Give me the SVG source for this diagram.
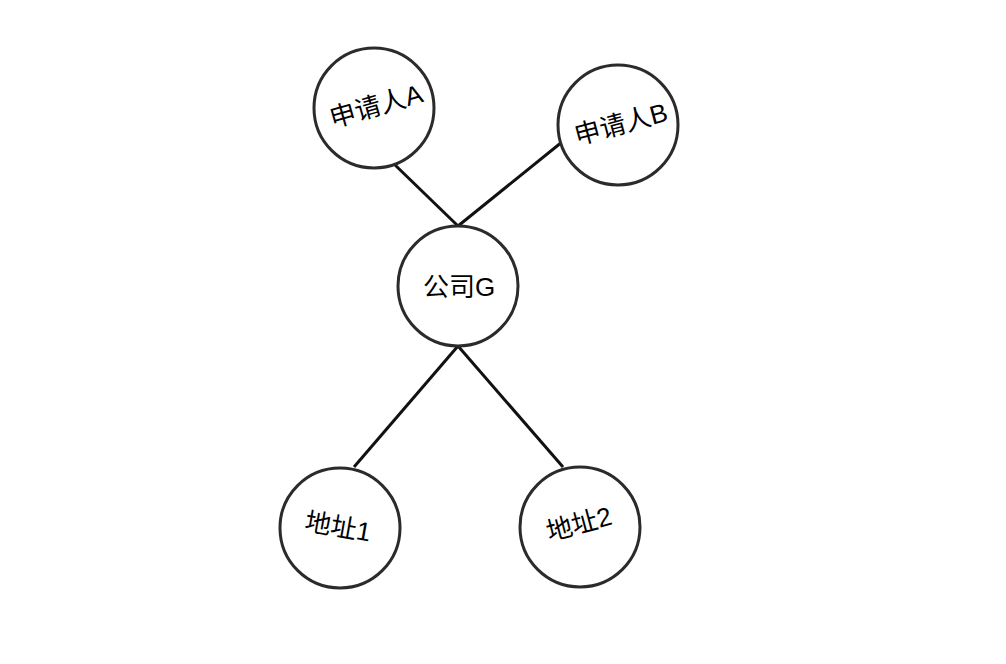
<svg xmlns="http://www.w3.org/2000/svg" width="1006" height="664" viewBox="0 0 1006 664">
<style>
.node circle{fill:#fff;stroke:#2b2b2b;stroke-width:3}
.node text{font-family:"Liberation Sans","Noto Sans CJK SC",sans-serif;font-size:26px;fill:#000;text-anchor:middle;dominant-baseline:central}
.edges line{stroke:#111;stroke-width:3}
</style>
<rect width="1006" height="664" fill="#fff"/>
<g class="edges">
<line x1="393" y1="163" x2="458" y2="226"/>
<line x1="562" y1="142" x2="458" y2="226"/>
<line x1="458" y1="346" x2="354" y2="467"/>
<line x1="458" y1="346" x2="563" y2="467"/>
</g>
<g class="node" id="applicantA"><circle cx="374" cy="108" r="60"/><text transform="translate(376,106) rotate(-16)">申请人A</text></g>
<g class="node" id="applicantB"><circle cx="618" cy="125" r="60"/><text transform="translate(621,124) rotate(-15)">申请人B</text></g>
<g class="node" id="companyG"><circle cx="458" cy="286" r="60"/><text transform="translate(459,287)">公司G</text></g>
<g class="node" id="address1"><circle cx="340" cy="528" r="60"/><text transform="translate(338,527) rotate(10)">地址1</text></g>
<g class="node" id="address2"><circle cx="580" cy="527" r="60"/><text transform="translate(579,524) rotate(-15)">地址2</text></g>
</svg>
